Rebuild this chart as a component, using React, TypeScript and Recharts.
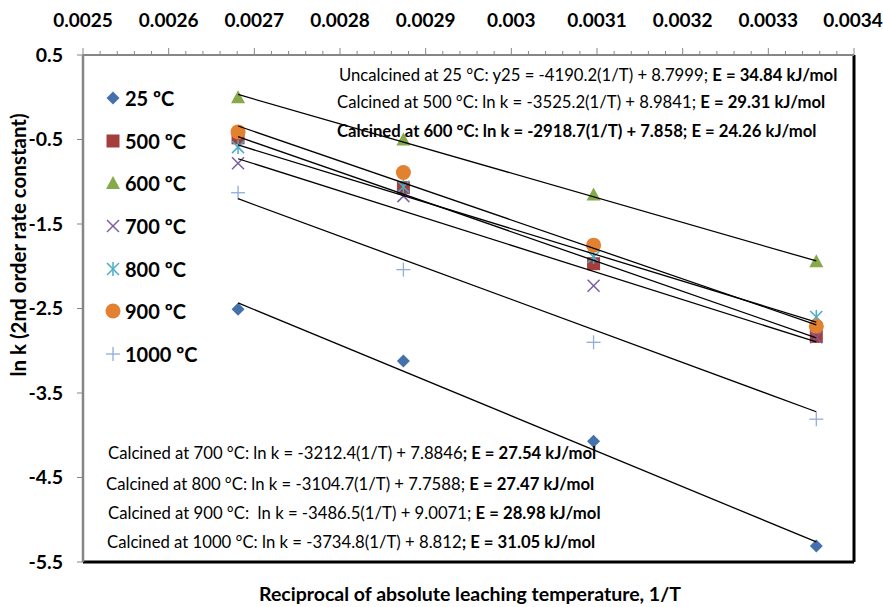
import React from "react";
import { ComposedChart, Scatter, XAxis, YAxis, ReferenceLine, Legend } from "recharts";

// 1/T for leaching at 100, 75, 50 and 25 °C
const invT = [0.002681, 0.002874, 0.003096, 0.003356];

const k25 = [-2.51, -3.12, -4.07, -5.31];
const k500 = [-0.48, -1.07, -1.97, -2.83];
const k600 = [0.0, -0.5, -1.15, -1.94];
const k700 = [-0.78, -1.17, -2.23, -2.84];
const k800 = [-0.59, -1.06, -1.89, -2.6];
const k900 = [-0.41, -0.89, -1.75, -2.71];
const k1000 = [-1.13, -2.04, -2.9, -3.81];

const seriesNames = ["25 ºC", "500 ºC", "600 ºC", "700 ºC", "800 ºC", "900 ºC", "1000 ºC"];
const seriesValues = [k25, k500, k600, k700, k800, k900, k1000];
const markerKinds = ["diamond", "square", "triangle", "cross", "star", "circle", "plus"];
const markerColors = ["#4471AB", "#A43E3C", "#86A94A", "#7D5FA0", "#4BACC6", "#E2812F", "#93ABDB"];

const slopes = [-4190.2, -3525.2, -2918.7, -3212.4, -3104.7, -3486.5, -3734.8];
const intercepts = [8.7999, 8.9841, 7.858, 7.8846, 7.7588, 9.0071, 8.812];

const xTickLabels = ["0.0025", "0.0026", "0.0027", "0.0028", "0.0029", "0.003", "0.0031", "0.0032", "0.0033", "0.0034"];
const yTicks = [0.5, -0.5, -1.5, -2.5, -3.5, -4.5, -5.5];

const xTicks: number[] = [];
for (let i = 0; i <= 45; i++) xTicks.push(Math.round((0.0025 + i * 0.00002) * 1e8) / 1e8);

const Marker = ({ kind, cx, cy, color }: any) => {
  switch (kind) {
    case "diamond":
      return <polygon points={`${cx},${cy - 6.5} ${cx + 6.5},${cy} ${cx},${cy + 6.5} ${cx - 6.5},${cy}`} fill={color} />;
    case "square":
      return <rect x={cx - 6.5} y={cy - 6.5} width={13} height={13} fill={color} />;
    case "triangle":
      return <polygon points={`${cx},${cy - 7} ${cx + 7},${cy + 6} ${cx - 7},${cy + 6}`} fill={color} />;
    case "cross":
      return (
        <g stroke={color} strokeWidth={1.5}>
          <line x1={cx - 6} y1={cy - 6} x2={cx + 6} y2={cy + 6} />
          <line x1={cx - 6} y1={cy + 6} x2={cx + 6} y2={cy - 6} />
        </g>
      );
    case "star":
      return (
        <g stroke={color} strokeWidth={1.5}>
          <line x1={cx - 6} y1={cy - 6} x2={cx + 6} y2={cy + 6} />
          <line x1={cx - 6} y1={cy + 6} x2={cx + 6} y2={cy - 6} />
          <line x1={cx} y1={cy - 7} x2={cx} y2={cy + 7} />
        </g>
      );
    case "circle":
      return <circle cx={cx} cy={cy} r={7.5} fill={color} />;
    default:
      return (
        <g stroke={color} strokeWidth={1.3}>
          <line x1={cx - 7} y1={cy} x2={cx + 7} y2={cy} />
          <line x1={cx} y1={cy - 7} x2={cx} y2={cy + 7} />
        </g>
      );
  }
};

const TopTick = ({ x, y, index }: any) => {
  const major = index % 5 === 0;
  const last = index === xTicks.length - 1;
  return (
    <g>
      <line x1={x} x2={x} y1={y} y2={y - (major ? 7 : 4)} stroke="#868686" />
      {major && (
        <text
          x={last ? x - 1 : x}
          y={y - 36}
          textAnchor="middle"
          dominantBaseline="central"
          fontSize={19}
          fontWeight={700}
          fill="#000"
        >
          {xTickLabels[index / 5]}
        </text>
      )}
    </g>
  );
};

const LegendBox = () => (
  <div>
    {seriesNames.map((name, i) => (
      <div key={name} style={{ height: 42.6, display: "flex", alignItems: "center" }}>
        <svg width={18} height={18} style={{ marginRight: 3 }}>
          <Marker kind={markerKinds[i]} cx={9} cy={9} color={markerColors[i]} />
        </svg>
        <span style={{ fontSize: 20, fontWeight: 700, color: "#000" }}>{name}</span>
      </div>
    ))}
  </div>
);

const notes = [
  { left: 339, top: 75, plain: "Uncalcined at 25 °C: y25 = -4190.2(1/T) + 8.7999; ", bold: "E = 34.84 kJ/mol" },
  { left: 337, top: 102, plain: "Calcined at 500 °C: ln k = -3525.2(1/T) + 8.9841; ", bold: "E = 29.31 kJ/mol" },
  { left: 337, top: 131, plain: "", bold: "Calcined at 600 °C: ln k = -2918.7(1/T) + 7.858; E = 24.26 kJ/mol" },
  { left: 108, top: 453, plain: "Calcined at 700 °C: ln k = -3212.4(1/T) + 7.8846", bold: "; E = 27.54 kJ/mol" },
  { left: 106, top: 484, plain: "Calcined at 800 °C: ln k = -3104.7(1/T) + 7.7588; ", bold: "E = 27.47 kJ/mol" },
  { left: 108, top: 513, plain: "Calcined at 900 °C:  ln k = -3486.5(1/T) + 9.0071; ", bold: "E = 28.98 kJ/mol" },
  { left: 107, top: 542, plain: "Calcined at 1000 °C: ln k = -3734.8(1/T) + 8.812", bold: "; E = 31.05 kJ/mol" },
];

export default function App() {
  return (
    <div style={{ position: "absolute", left: 0, top: 0, width: 883, height: 607, fontFamily: "Lato", background: "#fff" }}>
      <ComposedChart width={883} height={607} margin={{ top: 10, right: 29, bottom: 45, left: 8 }} style={{ overflow: "visible" }}>
        <XAxis
          type="number"
          dataKey="x"
          orientation="top"
          height={45}
          domain={[0.0025, 0.0034]}
          ticks={xTicks}
          interval={0}
          tick={<TopTick />}
          tickLine={false}
          tickSize={0}
          tickMargin={0}
          axisLine={{ stroke: "#868686", strokeWidth: 2 }}
          allowDataOverflow
        />
        <YAxis
          type="number"
          dataKey="y"
          width={75}
          domain={[-5.5, 0.5]}
          ticks={yTicks}
          interval={0}
          tickFormatter={(v: number) => String(v)}
          tick={{ fill: "#000", fontSize: 19.5, fontWeight: 700, fontFamily: "Lato" }}
          tickLine={{ stroke: "#868686" }}
          tickSize={6}
          tickMargin={14}
          axisLine={{ stroke: "#868686", strokeWidth: 2.5 }}
          allowDataOverflow
        />
        <ReferenceLine x={0.0034} stroke="#000" strokeWidth={3} />
        <ReferenceLine y={-5.5} stroke="#000" strokeWidth={3} />
        <Legend
          layout="vertical"
          align="center"
          verticalAlign="middle"
          content={<LegendBox />}
          wrapperStyle={{ left: 104, top: 77, width: 140, height: 300 }}
        />
        {seriesNames.map((name, i) => (
          <Scatter
            key={name}
            name={name}
            data={invT.map((x, j) => ({ x, y: seriesValues[i][j] }))}
            fill={markerColors[i]}
            isAnimationActive={false}
            shape={(p: any) => <Marker kind={markerKinds[i]} cx={p.cx} cy={p.cy} color={markerColors[i]} />}
          />
        ))}
        {slopes.map((m, i) => (
          <Scatter
            key={"fit" + i}
            name={"fit" + i}
            legendType="none"
            data={[invT[0], invT[3]].map((x) => ({ x, y: m * x + intercepts[i] }))}
            line={{ stroke: "#000", strokeWidth: 1.3 }}
            shape={() => <g />}
            isAnimationActive={false}
          />
        ))}
      </ComposedChart>
      {notes.map((n) => (
        <div
          key={n.top}
          style={{ position: "absolute", left: n.left, top: n.top, transform: "translateY(-50%)", fontSize: 16.7, whiteSpace: "pre", color: "#000" }}
        >
          {n.plain}
          <b>{n.bold}</b>
        </div>
      ))}
      <div
        style={{
          position: "absolute",
          left: 18,
          top: 245,
          transform: "translate(-50%, -50%) rotate(-90deg)",
          fontSize: 20.5,
          fontWeight: 700,
          whiteSpace: "nowrap",
        }}
      >
        ln k (2nd order rate constant)
      </div>
      <div
        style={{
          position: "absolute",
          left: 470,
          top: 594,
          transform: "translate(-50%, -50%)",
          fontSize: 19.5,
          fontWeight: 700,
          whiteSpace: "nowrap",
          lineHeight: "22px",
        }}
      >
        Reciprocal of absolute leaching temperature, 1/T
      </div>
    </div>
  );
}
